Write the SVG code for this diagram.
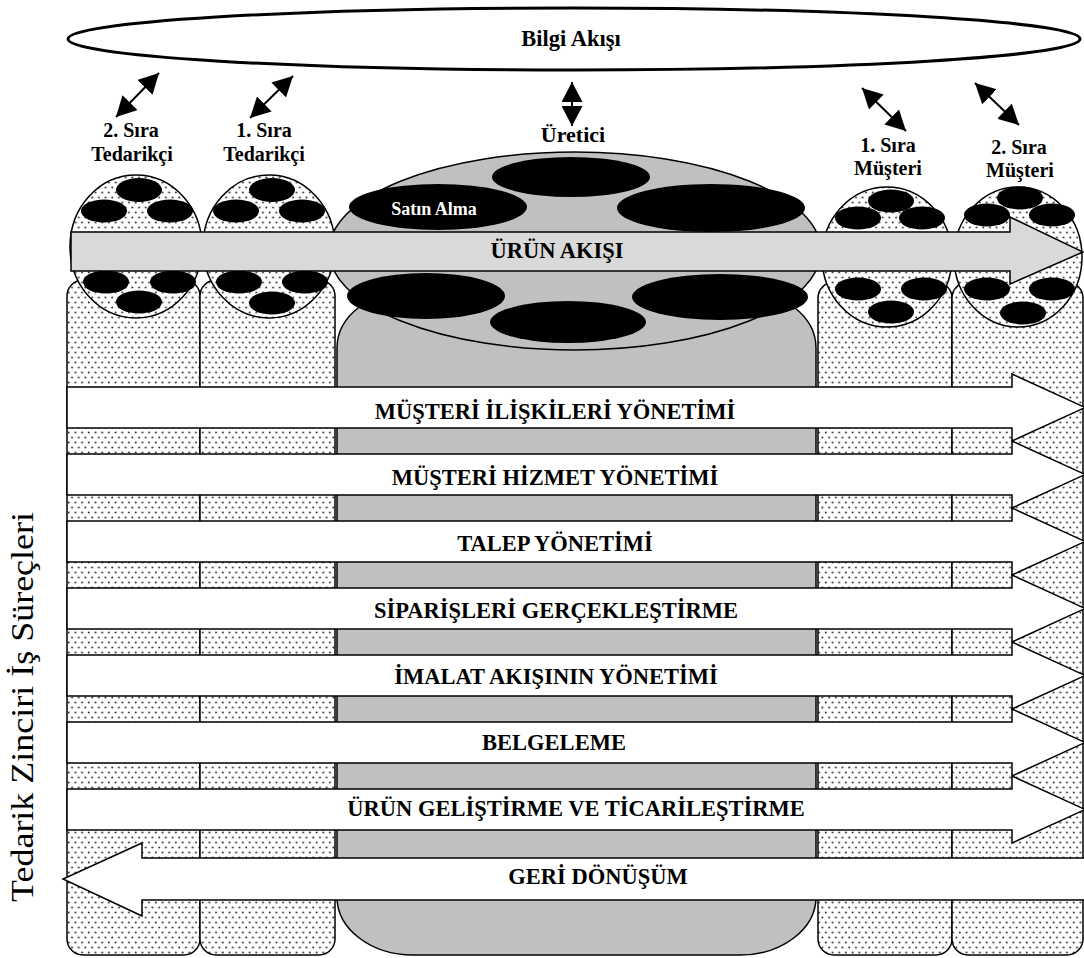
<svg xmlns="http://www.w3.org/2000/svg" width="1084" height="958" viewBox="0 0 1084 958">
<style>
.b{font-family:"Liberation Serif","Times New Roman",serif;font-weight:bold;fill:#000;text-anchor:middle}
.lab{font-size:20px}
.band{font-size:22.5px}
.dot{fill:url(#dots);stroke:#000;stroke-width:1.5}
.blk{fill:#000}
.arr{fill:#fff;stroke:#000;stroke-width:1.5}
.con{stroke:#000;stroke-width:2;fill:none;marker-start:url(#ah);marker-end:url(#ah)}
</style>
<defs>
<pattern id="dots" patternUnits="userSpaceOnUse" width="6.7" height="10">
<rect width="6.7" height="10" fill="#fff"/>
<circle cx="1.7" cy="2.5" r="1" fill="#333"/>
<circle cx="5.05" cy="7.5" r="1" fill="#333"/>
</pattern>
<marker id="ah" markerUnits="userSpaceOnUse" markerWidth="20" markerHeight="21" viewBox="0 0 20 21" refX="20" refY="10.5" orient="auto-start-reverse">
<path d="M0,0 L20,10.5 L0,21 z" fill="#000"/>
</marker>
</defs>
<rect width="1084" height="958" fill="#fff"/>

<g id="bilgi-akisi">
<ellipse cx="574" cy="39" rx="506" ry="31" fill="#fff" stroke="#000" stroke-width="3"/>
<text class="b" x="571" y="46" font-size="22.5">Bilgi Akışı</text>
</g>

<g id="labels">
<text class="b lab" x="131" y="137">2. Sıra</text>
<text class="b lab" x="132" y="161">Tedarikçi</text>
<text class="b lab" x="264" y="137">1. Sıra</text>
<text class="b lab" x="264" y="161">Tedarikçi</text>
<text class="b" x="573" y="142" font-size="22">Üretici</text>
<text class="b lab" x="888" y="152">1. Sıra</text>
<text class="b lab" x="888" y="175">Müşteri</text>
<text class="b lab" x="1019" y="154">2. Sıra</text>
<text class="b lab" x="1020" y="177">Müşteri</text>
</g>

<g id="columns">
<rect id="col-ted2" class="dot" x="67" y="280" width="133" height="675" rx="16"/>
<rect id="col-ted1" class="dot" x="200" y="280" width="135" height="675" rx="16"/>
<rect id="col-mus1" class="dot" x="818" y="282" width="134" height="673" rx="16"/>
<rect id="col-mus2" class="dot" x="952" y="282" width="131" height="673" rx="16"/>
<rect id="col-uretici" x="337" y="290" width="479" height="665" rx="76" ry="58" fill="#c0c0c0" stroke="#000" stroke-width="1.5"/>
</g>

<g id="uretici">
<ellipse cx="575" cy="251" rx="246" ry="99" fill="#c0c0c0" stroke="#000" stroke-width="1.5"/>
<ellipse class="blk" cx="571" cy="177" rx="79" ry="20"/>
<ellipse class="blk" cx="438" cy="207" rx="89" ry="23"/>
<ellipse class="blk" cx="711" cy="208" rx="94" ry="24"/>
<ellipse class="blk" cx="426" cy="296" rx="79" ry="23"/>
<ellipse class="blk" cx="568" cy="322" rx="78" ry="21"/>
<ellipse class="blk" cx="720" cy="297" rx="88" ry="23"/>
<text class="b" x="434" y="215" font-size="18" style="fill:#fff">Satın Alma</text>
</g>

<g id="tedarikci-2">
<ellipse class="dot" cx="136" cy="246.5" rx="66" ry="71.5"/>
<ellipse class="blk" cx="139" cy="190" rx="23" ry="12"/>
<ellipse class="blk" cx="104" cy="211" rx="23" ry="11.5"/>
<ellipse class="blk" cx="170" cy="211" rx="23" ry="11.5"/>
<ellipse class="blk" cx="106" cy="282" rx="23" ry="11.5"/>
<ellipse class="blk" cx="173" cy="282" rx="23" ry="11.5"/>
<ellipse class="blk" cx="139" cy="302" rx="23" ry="11.5"/>
</g>

<g id="tedarikci-1">
<ellipse class="dot" cx="269" cy="246.5" rx="66" ry="71.5"/>
<ellipse class="blk" cx="272" cy="190" rx="23" ry="12"/>
<ellipse class="blk" cx="236" cy="211" rx="23" ry="11.5"/>
<ellipse class="blk" cx="302" cy="211" rx="23" ry="11.5"/>
<ellipse class="blk" cx="239" cy="282" rx="23" ry="11.5"/>
<ellipse class="blk" cx="305" cy="282" rx="23" ry="11.5"/>
<ellipse class="blk" cx="272" cy="303" rx="23" ry="11.5"/>
</g>

<g id="musteri-1">
<ellipse class="dot" cx="887" cy="257" rx="65" ry="70"/>
<ellipse class="blk" cx="891" cy="201" rx="23" ry="11.5"/>
<ellipse class="blk" cx="858" cy="218" rx="23" ry="11.5"/>
<ellipse class="blk" cx="922" cy="218" rx="23" ry="11.5"/>
<ellipse class="blk" cx="858" cy="289" rx="23" ry="11.5"/>
<ellipse class="blk" cx="924" cy="289" rx="23" ry="11.5"/>
<ellipse class="blk" cx="891" cy="312" rx="23" ry="11.5"/>
</g>

<g id="musteri-2">
<ellipse class="dot" cx="1018" cy="257" rx="64" ry="70"/>
<ellipse class="blk" cx="1020" cy="198" rx="23" ry="11.5"/>
<ellipse class="blk" cx="987" cy="215" rx="23" ry="11.5"/>
<ellipse class="blk" cx="1052" cy="215" rx="23" ry="11.5"/>
<ellipse class="blk" cx="987" cy="289" rx="23" ry="11.5"/>
<ellipse class="blk" cx="1052" cy="289" rx="23" ry="11.5"/>
<ellipse class="blk" cx="1023" cy="313" rx="23" ry="11.5"/>
</g>

<g id="urun-akisi">
<polygon points="71,232 1010,232 1010,217 1083,252 1010,284 1010,271 71,271" fill="#d9d9d9" stroke="#000" stroke-width="1.5"/>
<text class="b band" x="557" y="258">ÜRÜN AKIŞI</text>
</g>

<g id="processes">
<g id="p1"><polygon class="arr" points="67,387 1012,387 1012,374 1085,407.5 1012,441 1012,428 67,428"/><text class="b band" x="555" y="419">MÜŞTERİ İLİŞKİLERİ YÖNETİMİ</text></g>
<g id="p2"><polygon class="arr" points="67,454 1012,454 1012,441 1085,474.5 1012,508 1012,495 67,495"/><text class="b band" x="555" y="485.2">MÜŞTERİ HİZMET YÖNETİMİ</text></g>
<g id="p3"><polygon class="arr" points="67,521 1012,521 1012,508 1085,541.5 1012,575 1012,562 67,562"/><text class="b band" x="555" y="551.4">TALEP YÖNETİMİ</text></g>
<g id="p4"><polygon class="arr" points="67,588 1012,588 1012,575 1085,608.5 1012,642 1012,629 67,629"/><text class="b band" x="556" y="617.6">SİPARİŞLERİ GERÇEKLEŞTİRME</text></g>
<g id="p5"><polygon class="arr" points="67,655 1012,655 1012,642 1085,675.5 1012,709 1012,696 67,696"/><text class="b band" x="556" y="683.8">İMALAT AKIŞININ YÖNETİMİ</text></g>
<g id="p6"><polygon class="arr" points="67,722 1012,722 1012,709 1085,742.5 1012,776 1012,763 67,763"/><text class="b band" x="554" y="750">BELGELEME</text></g>
<g id="p7"><polygon class="arr" points="67,789 1012,789 1012,776 1085,809.5 1012,843 1012,830 67,830"/><text class="b band" x="576" y="816.2">ÜRÜN GELİŞTİRME VE TİCARİLEŞTİRME</text></g>
<g id="p8"><polygon class="arr" points="1092,858 142,858 142,843 63,879 142,916 142,900 1092,900"/><text class="b band" x="598" y="884">GERİ DÖNÜŞÜM</text></g>
</g>

<g id="connectors">
<line class="con" x1="116" y1="117" x2="159" y2="73"/>
<line class="con" x1="250" y1="118" x2="293" y2="76"/>
<line class="con" x1="572" y1="126" x2="572" y2="82"/>
<line class="con" x1="906" y1="131" x2="862" y2="88"/>
<line class="con" x1="1019" y1="125" x2="975" y2="83"/>
</g>

<text id="side-label" transform="translate(33,707) rotate(-90)" text-anchor="middle" font-family="Liberation Serif, Times New Roman, serif" font-size="32" textLength="390" lengthAdjust="spacingAndGlyphs">Tedarik Zinciri İş Süreçleri</text>
</svg>
